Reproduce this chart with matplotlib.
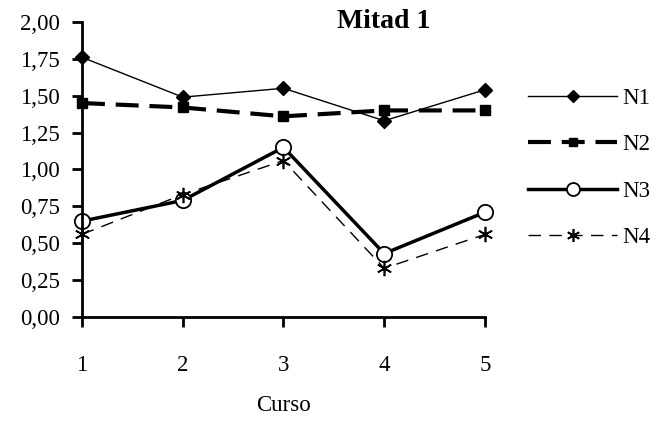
import matplotlib
matplotlib.use("Agg")
import matplotlib.pyplot as plt

plt.rcParams['font.family'] = ['Liberation Serif', 'DejaVu Serif']

# data
cursos = [1, 2, 3, 4, 5]
n1 = [1.76, 1.49, 1.55, 1.33, 1.54]
n2 = [1.45, 1.42, 1.36, 1.40, 1.40]
n3 = [0.65, 0.79, 1.15, 0.43, 0.71]
n4 = [0.56, 0.83, 1.06, 0.33, 0.56]
yticks = [0.0, 0.25, 0.5, 0.75, 1.0, 1.25, 1.5, 1.75, 2.0]
ytick_labels = ['0,00', '0,25', '0,50', '0,75', '1,00', '1,25', '1,50', '1,75', '2,00']

fig = plt.figure(figsize=(6.58, 4.21), dpi=100)
ax = fig.add_axes([0.1246, 0.247, 0.6124, 0.701])

ax.plot(cursos, n1, color='black', lw=1.0, marker='D', ms=7, label='N1')
ax.plot(cursos, n2, color='black', lw=3.0, dashes=(5.5, 2.6), marker='s', ms=7.5, label='N2')
ax.plot(cursos, n3, color='black', lw=2.5, marker='o', ms=11, mfc='white', mec='black',
        mew=1.3, label='N3')
ax.plot(cursos, n4, color='black', lw=1.0, dashes=(9, 6), marker=(6, 2, 0), ms=11,
        mew=1.2, label='N4')

ax.set_xlim(1, 5)
ax.set_ylim(0, 2.0)
ax.set_xticks(cursos)
ax.set_xticklabels([str(c) for c in cursos])
ax.set_yticks(yticks)
ax.set_yticklabels(ytick_labels)
ax.spines['top'].set_visible(False)
ax.spines['right'].set_visible(False)
for s in ['left', 'bottom']:
    ax.spines[s].set_linewidth(2)
ax.tick_params(axis='both', direction='out', length=7, width=2, labelsize=16.5)
ax.tick_params(axis='x', pad=20)
ax.tick_params(axis='y', pad=9)
for sp in ax.spines.values():
    sp.set_clip_on(False)
for ln in ax.lines:
    ln.set_clip_on(False)

ax.set_xlabel('Curso', fontsize=16.5, labelpad=14)
fig.text(0.583, 0.948, 'Mitad 1', fontsize=20, fontweight='bold', ha='center', va='center')

leg = ax.legend(loc='center left', bbox_to_anchor=(1.107, 0.505), frameon=False,
                fontsize=16.5, handlelength=3.9, labelspacing=1.1, handletextpad=0.2,
                borderpad=0, borderaxespad=0, markerscale=0.85)

fig.savefig('out.png', dpi=100)
